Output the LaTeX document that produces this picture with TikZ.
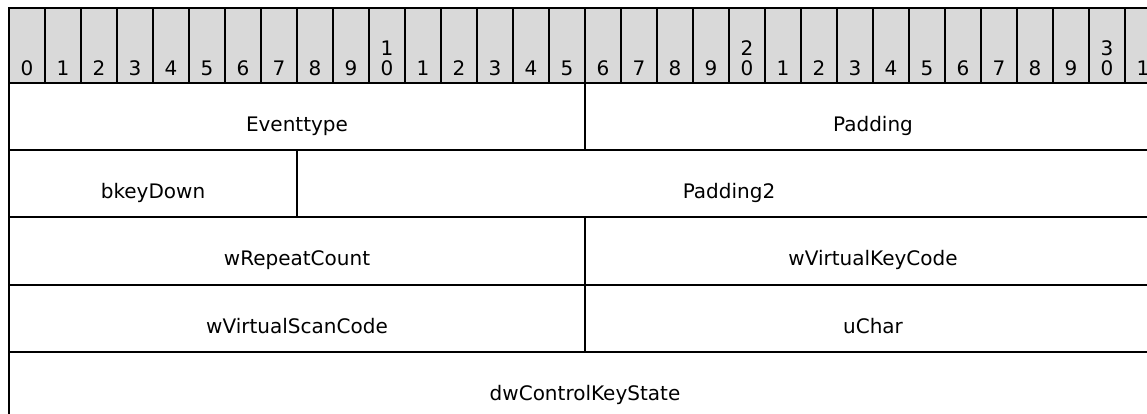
\documentclass[tikz,border=0pt]{standalone}
\usepackage{fontspec}
\setmainfont{DejaVu Sans}
\definecolor{hdr}{RGB}{217,217,217}
\begin{document}
\begin{tikzpicture}[x=1pt,y=-1pt,
  txt/.style={font=\fontsize{20}{21}\selectfont, text=black},
  cell/.style={txt, draw=black, line width=2pt, inner sep=0pt, outer sep=0pt,
    anchor=north west, minimum height=67.2pt, text height=48.5pt, text depth=18.7pt},
  hcell/.style={txt, draw=black, fill=hdr, line width=2pt, inner sep=0pt, outer sep=0pt,
    anchor=north west, minimum width=36pt, minimum height=75pt, text height=67pt, text depth=8pt}]
\useasboundingbox (0,0) rectangle (1147,413);
\clip (0,0) rectangle (1147,413);
% header
\foreach \i in {0,...,31}{
  \pgfmathtruncatemacro\tens{\i/10}
  \pgfmathtruncatemacro\units{\i-10*\tens}
  \ifnum\i<10
    \node[hcell] (h\i) at ({9+36*\i},8) {\i};
  \else\ifnum\units=0
    \node[hcell] (h\i) at ({9+36*\i},8) {\rlap{\raisebox{20pt}{\tens}}\units};
  \else
    \node[hcell] (h\i) at ({9+36*\i},8) {\units};
  \fi\fi
}
% fields
\node[cell, minimum width=576pt] (eventtype) at (9,83) {Eventtype};
\node[cell, minimum width=576pt] (padding) at (585,83) {Padding};
\node[cell, minimum width=288pt] (bkeydown) at (9,150.2) {bkeyDown};
\node[cell, minimum width=864pt] (padding2) at (297,150.2) {Padding2};
\node[cell, minimum width=576pt] (wrepeat) at (9,217.4) {wRepeatCount};
\node[cell, minimum width=576pt] (wvkc) at (585,217.4) {wVirtualKeyCode};
\node[cell, minimum width=576pt] (wvsc) at (9,284.6) {wVirtualScanCode};
\node[cell, minimum width=576pt] (uchar) at (585,284.6) {uChar};
\node[cell, minimum width=1152pt] (dwcks) at (9,351.8) {dwControlKeyState};
\end{tikzpicture}
\end{document}
